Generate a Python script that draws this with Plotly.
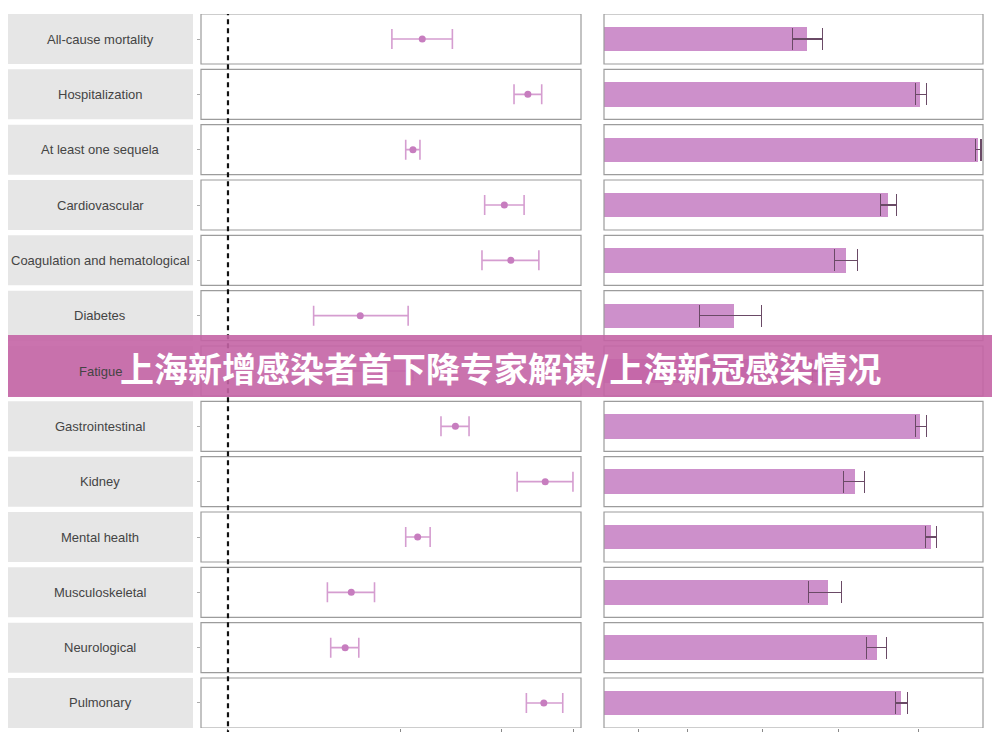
import plotly.graph_objects as go

categories = ["All-cause mortality", "Hospitalization", "At least one sequela",
              "Cardiovascular", "Coagulation and hematological", "Diabetes",
              "Fatigue", "Gastrointestinal", "Kidney", "Mental health",
              "Musculoskeletal", "Neurological", "Pulmonary"]

# hazard ratios (middle panel, log axis)
hr = [2.18, 3.33, 2.10, 3.03, 3.11, 1.70, 1.85, 2.49, 3.57, 2.14, 1.64, 1.60, 3.55]
hr_lo = [1.93, 3.15, 2.04, 2.80, 2.77, 1.41, 1.62, 2.35, 3.19, 2.04, 1.49, 1.51, 3.31]
hr_hi = [2.46, 3.52, 2.16, 3.28, 3.48, 2.06, 2.10, 2.63, 3.99, 2.25, 1.80, 1.69, 3.83]

# excess burden (right panel, log axis)
burden = [15.1, 42.6, 72.5, 31.8, 21.6, 7.7, 18.0, 42.6, 23.3, 47.1, 18.2, 28.7, 35.8]
burden_lo = [13.2, 40.7, 70.6, 29.5, 19.4, 5.6, 15.8, 40.7, 21.0, 44.6, 15.3, 25.9, 33.9]
burden_hi = [17.3, 45.0, 74.5, 34.2, 23.9, 9.9, 20.3, 45.0, 25.5, 49.3, 20.6, 31.2, 37.8]

hr_ticks = [1, 2, 3, 4]
burden_ticks = [3.2, 5, 10, 20, 42]
reference_hr = 1

title_text = "上海新增感染者首下降专家解读/上海新冠感染情况"

n = len(categories)
ypos = list(range(n))
half = 0.452

W, H = 992, 724  # page adds an 8px body margin

fig = go.Figure()

fig.add_trace(go.Scatter(
    x=hr, y=ypos, mode="markers",
    marker=dict(color="#C77DBF", size=7),
    error_x=dict(type="data", symmetric=False,
                 array=[h - m for h, m in zip(hr_hi, hr)],
                 arrayminus=[m - l for m, l in zip(hr, hr_lo)],
                 color="#D59DD0", thickness=1.6, width=10),
    xaxis="x", yaxis="y", showlegend=False))

fig.add_trace(go.Bar(
    x=burden, y=ypos, orientation="h", width=0.44,
    marker=dict(color="#CD90CB", line=dict(width=0)),
    error_x=dict(type="data", symmetric=False,
                 array=[h - m for h, m in zip(burden_hi, burden)],
                 arrayminus=[m - l for m, l in zip(burden, burden_lo)],
                 color="#6A4A66", thickness=1.1, width=11),
    xaxis="x2", yaxis="y", showlegend=False))

shapes = []
annotations = []
for i, cat in enumerate(categories):
    shapes.append(dict(type="rect", xref="paper", yref="y", x0=0.0, x1=185 / W,
                       y0=i - half, y1=i + half, fillcolor="#E6E6E6",
                       line=dict(width=0), layer="below"))
    for xr in ["x domain", "x2 domain"]:
        shapes.append(dict(type="rect", xref=xr, yref="y", x0=0, x1=1,
                           y0=i - half, y1=i + half, fillcolor="rgba(0,0,0,0)",
                           line=dict(color="#9C9C9C", width=1.2), layer="above"))
    annotations.append(dict(xref="paper", yref="y", x=92 / W, y=i, text=cat,
                            showarrow=False, xanchor="center", yanchor="middle",
                            font=dict(family="Liberation Sans", size=13, color="#444444")))

shapes.append(dict(type="line", xref="x", yref="paper", x0=reference_hr, x1=reference_hr,
                   y0=-0.01, y1=1.0, line=dict(color="#111111", width=2.2, dash="5px,4px"),
                   layer="above"))

# banner (ref pixels 335..397)
plot_h = H - 6 - 4
shapes.append(dict(type="rect", xref="paper", yref="paper", x0=0, x1=1,
                   y0=(H - 4 - (397 - 8)) / plot_h, y1=(H - 4 - (335 - 8)) / plot_h,
                   fillcolor="rgba(196,100,165,0.9)",
                   line=dict(width=0), layer="above"))
annotations.append(dict(xref="paper", yref="paper", x=(500 - 8) / W,
                        y=(H - 4 - (367 - 8)) / plot_h, text=title_text,
                        showarrow=False, xanchor="center", yanchor="middle",
                        font=dict(family="Noto Sans CJK SC", size=34, color="white",
                                  weight="bold")))

fig.update_layout(
    width=W, height=H,
    margin=dict(l=0, r=0, t=6, b=4),
    paper_bgcolor="white", plot_bgcolor="white",
    shapes=shapes, annotations=annotations,
    bargap=0,
    xaxis=dict(type="log", domain=[193 / W, 573 / W], range=[-0.047, 0.615],
               anchor="y", showgrid=False, zeroline=False, showline=False,
               tickvals=hr_ticks, ticks="outside", ticklen=5, tickcolor="#888888",
               showticklabels=False),
    xaxis2=dict(type="log", domain=[596 / W, 975 / W], range=[0.3665, 1.880],
                anchor="y", showgrid=False, zeroline=False, showline=False,
                tickvals=burden_ticks, ticks="outside", ticklen=5, tickcolor="#888888",
                showticklabels=False),
    yaxis=dict(range=[n - 1 + half, -half], showgrid=False, zeroline=False,
               showline=False, tickvals=ypos, ticks="outside", ticklen=3,
               tickcolor="#AAAAAA", showticklabels=False, anchor="x"),
)

fig.write_html("out.html")
